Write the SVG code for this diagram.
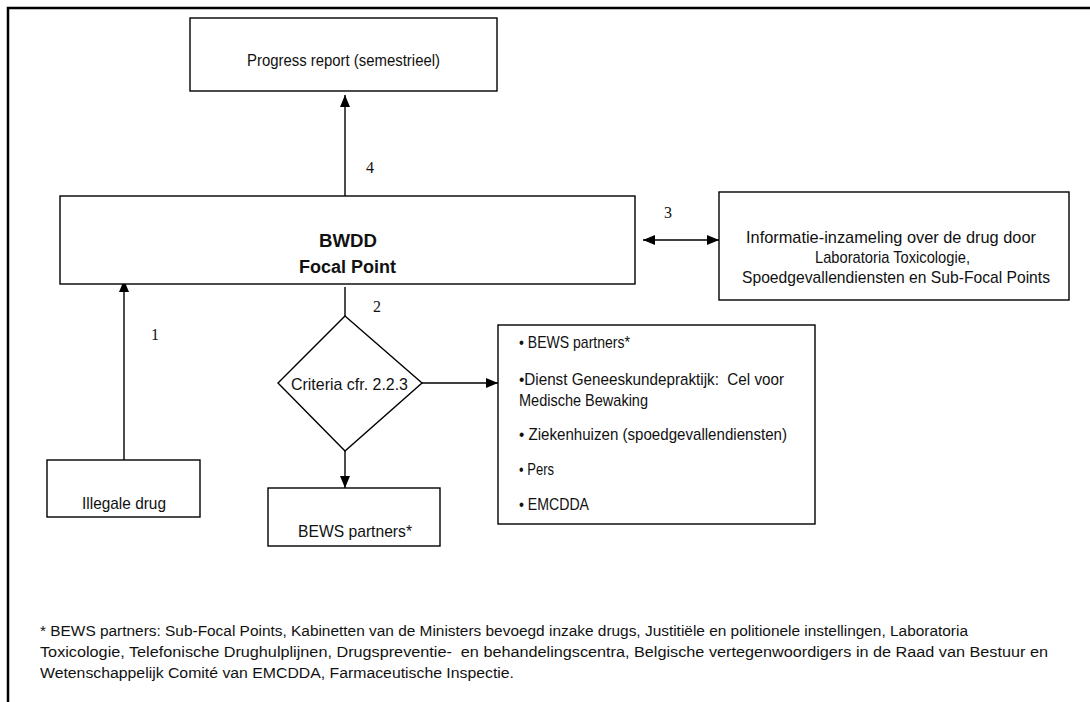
<svg xmlns="http://www.w3.org/2000/svg" width="1090" height="702" viewBox="0 0 1090 702">
  <style>
    .box { fill: #ffffff; stroke: #000000; stroke-width: 1.4; }
    .frame { fill: none; stroke: #000000; stroke-width: 2.5; }
    .conn { fill: none; stroke: #000000; stroke-width: 1.4; }
    .t { font-family: "Liberation Sans", Arial, sans-serif; font-size: 17px; fill: #111111; }
    .tb { font-family: "Liberation Sans", Arial, sans-serif; font-size: 18px; font-weight: bold; fill: #111111; }
    .num { font-family: "Liberation Serif", "Times New Roman", serif; font-size: 16px; fill: #111111; }
    .note { font-family: "Liberation Sans", Arial, sans-serif; font-size: 14px; fill: #111111; }
    .mid { text-anchor: middle; }
    .pre { white-space: pre; }
  </style>
  <defs>
    <marker id="arrow" viewBox="0 0 12 10" refX="12" refY="5" markerWidth="12" markerHeight="10" markerUnits="userSpaceOnUse" orient="auto-start-reverse">
      <path d="M0,0 L12,5 L0,10 Z" fill="#000000"/>
    </marker>
  </defs>

  <rect width="1090" height="702" fill="#ffffff"/>

  <!-- page frame: top and left rules -->
  <path class="frame" d="M8,702 L8,8 L1090,8"/>

  <!-- connectors -->
  <g id="connectors">
    <line class="conn" x1="345" y1="200" x2="345" y2="95" marker-end="url(#arrow)"/>
    <line class="conn" x1="345" y1="287" x2="345" y2="316"/>
    <line class="conn" x1="124" y1="460" x2="124" y2="280" marker-end="url(#arrow)"/>
    <line class="conn" x1="422" y1="383" x2="498" y2="383" marker-end="url(#arrow)"/>
    <line class="conn" x1="345" y1="451" x2="345" y2="488" marker-end="url(#arrow)"/>
    <line class="conn" x1="643" y1="240" x2="719" y2="240" marker-start="url(#arrow)" marker-end="url(#arrow)"/>
    <text class="num" x="366" y="173">4</text>
    <text class="num" x="373" y="312">2</text>
    <text class="num" x="664" y="218">3</text>
    <text class="num" x="151" y="340">1</text>
  </g>

  <g id="progress-report">
    <rect class="box" x="190" y="18" width="307" height="73"/>
    <text class="t mid" x="343.5" y="66" textLength="193" lengthAdjust="spacingAndGlyphs">Progress report (semestrieel)</text>
  </g>

  <g id="focal-point">
    <rect class="box" x="60" y="196" width="575" height="88"/>
    <text class="tb mid" x="348" y="247" textLength="58" lengthAdjust="spacingAndGlyphs">BWDD</text>
    <text class="tb mid" x="347.5" y="273" textLength="97" lengthAdjust="spacingAndGlyphs">Focal Point</text>
  </g>

  <g id="informatie">
    <rect class="box" x="719" y="192" width="350" height="108"/>
    <text class="t mid" x="891" y="243" textLength="290" lengthAdjust="spacingAndGlyphs">Informatie-inzameling over de drug door</text>
    <text class="t mid" x="892.5" y="263" textLength="155" lengthAdjust="spacingAndGlyphs">Laboratoria Toxicologie,</text>
    <text class="t mid" x="896" y="283" textLength="308" lengthAdjust="spacingAndGlyphs">Spoedgevallendiensten en Sub-Focal Points</text>
  </g>

  <g id="criteria">
    <polygon class="box" points="345,316 422,383 345,451 278,383"/>
    <text class="t mid" x="349.5" y="390" textLength="117" lengthAdjust="spacingAndGlyphs">Criteria cfr. 2.2.3</text>
  </g>

  <g id="recipients">
    <rect class="box" x="498" y="325" width="317" height="199"/>
    <text class="t" x="519" y="348" textLength="111" lengthAdjust="spacingAndGlyphs">• BEWS partners*</text>
    <text class="t pre" x="519" y="385" textLength="265" lengthAdjust="spacingAndGlyphs">•Dienst Geneeskundepraktijk:  Cel voor</text>
    <text class="t" x="519" y="406" textLength="129" lengthAdjust="spacingAndGlyphs">Medische Bewaking</text>
    <text class="t" x="519" y="440" textLength="268" lengthAdjust="spacingAndGlyphs">• Ziekenhuizen (spoedgevallendiensten)</text>
    <text class="t" x="519" y="475" textLength="35" lengthAdjust="spacingAndGlyphs">• Pers</text>
    <text class="t" x="519" y="510" textLength="70" lengthAdjust="spacingAndGlyphs">• EMCDDA</text>
  </g>

  <g id="illegale-drug">
    <rect class="box" x="47" y="460" width="153" height="57"/>
    <text class="t mid" x="124" y="509" textLength="84" lengthAdjust="spacingAndGlyphs">Illegale drug</text>
  </g>

  <g id="bews-partners">
    <rect class="box" x="268" y="488" width="172" height="58"/>
    <text class="t mid" x="355" y="537" textLength="114" lengthAdjust="spacingAndGlyphs">BEWS partners*</text>
  </g>

  <g id="footnote">
    <text class="note" x="40" y="636" textLength="928" lengthAdjust="spacingAndGlyphs">* BEWS partners: Sub-Focal Points, Kabinetten van de Ministers bevoegd inzake drugs, Justitiële en politionele instellingen, Laboratoria</text>
    <text class="note pre" x="40" y="657" textLength="1008" lengthAdjust="spacingAndGlyphs">Toxicologie, Telefonische Drughulplijnen, Drugspreventie-  en behandelingscentra, Belgische vertegenwoordigers in de Raad van Bestuur en</text>
    <text class="note" x="40" y="678" textLength="474" lengthAdjust="spacingAndGlyphs">Wetenschappelijk Comité van EMCDDA, Farmaceutische Inspectie.</text>
  </g>
</svg>
